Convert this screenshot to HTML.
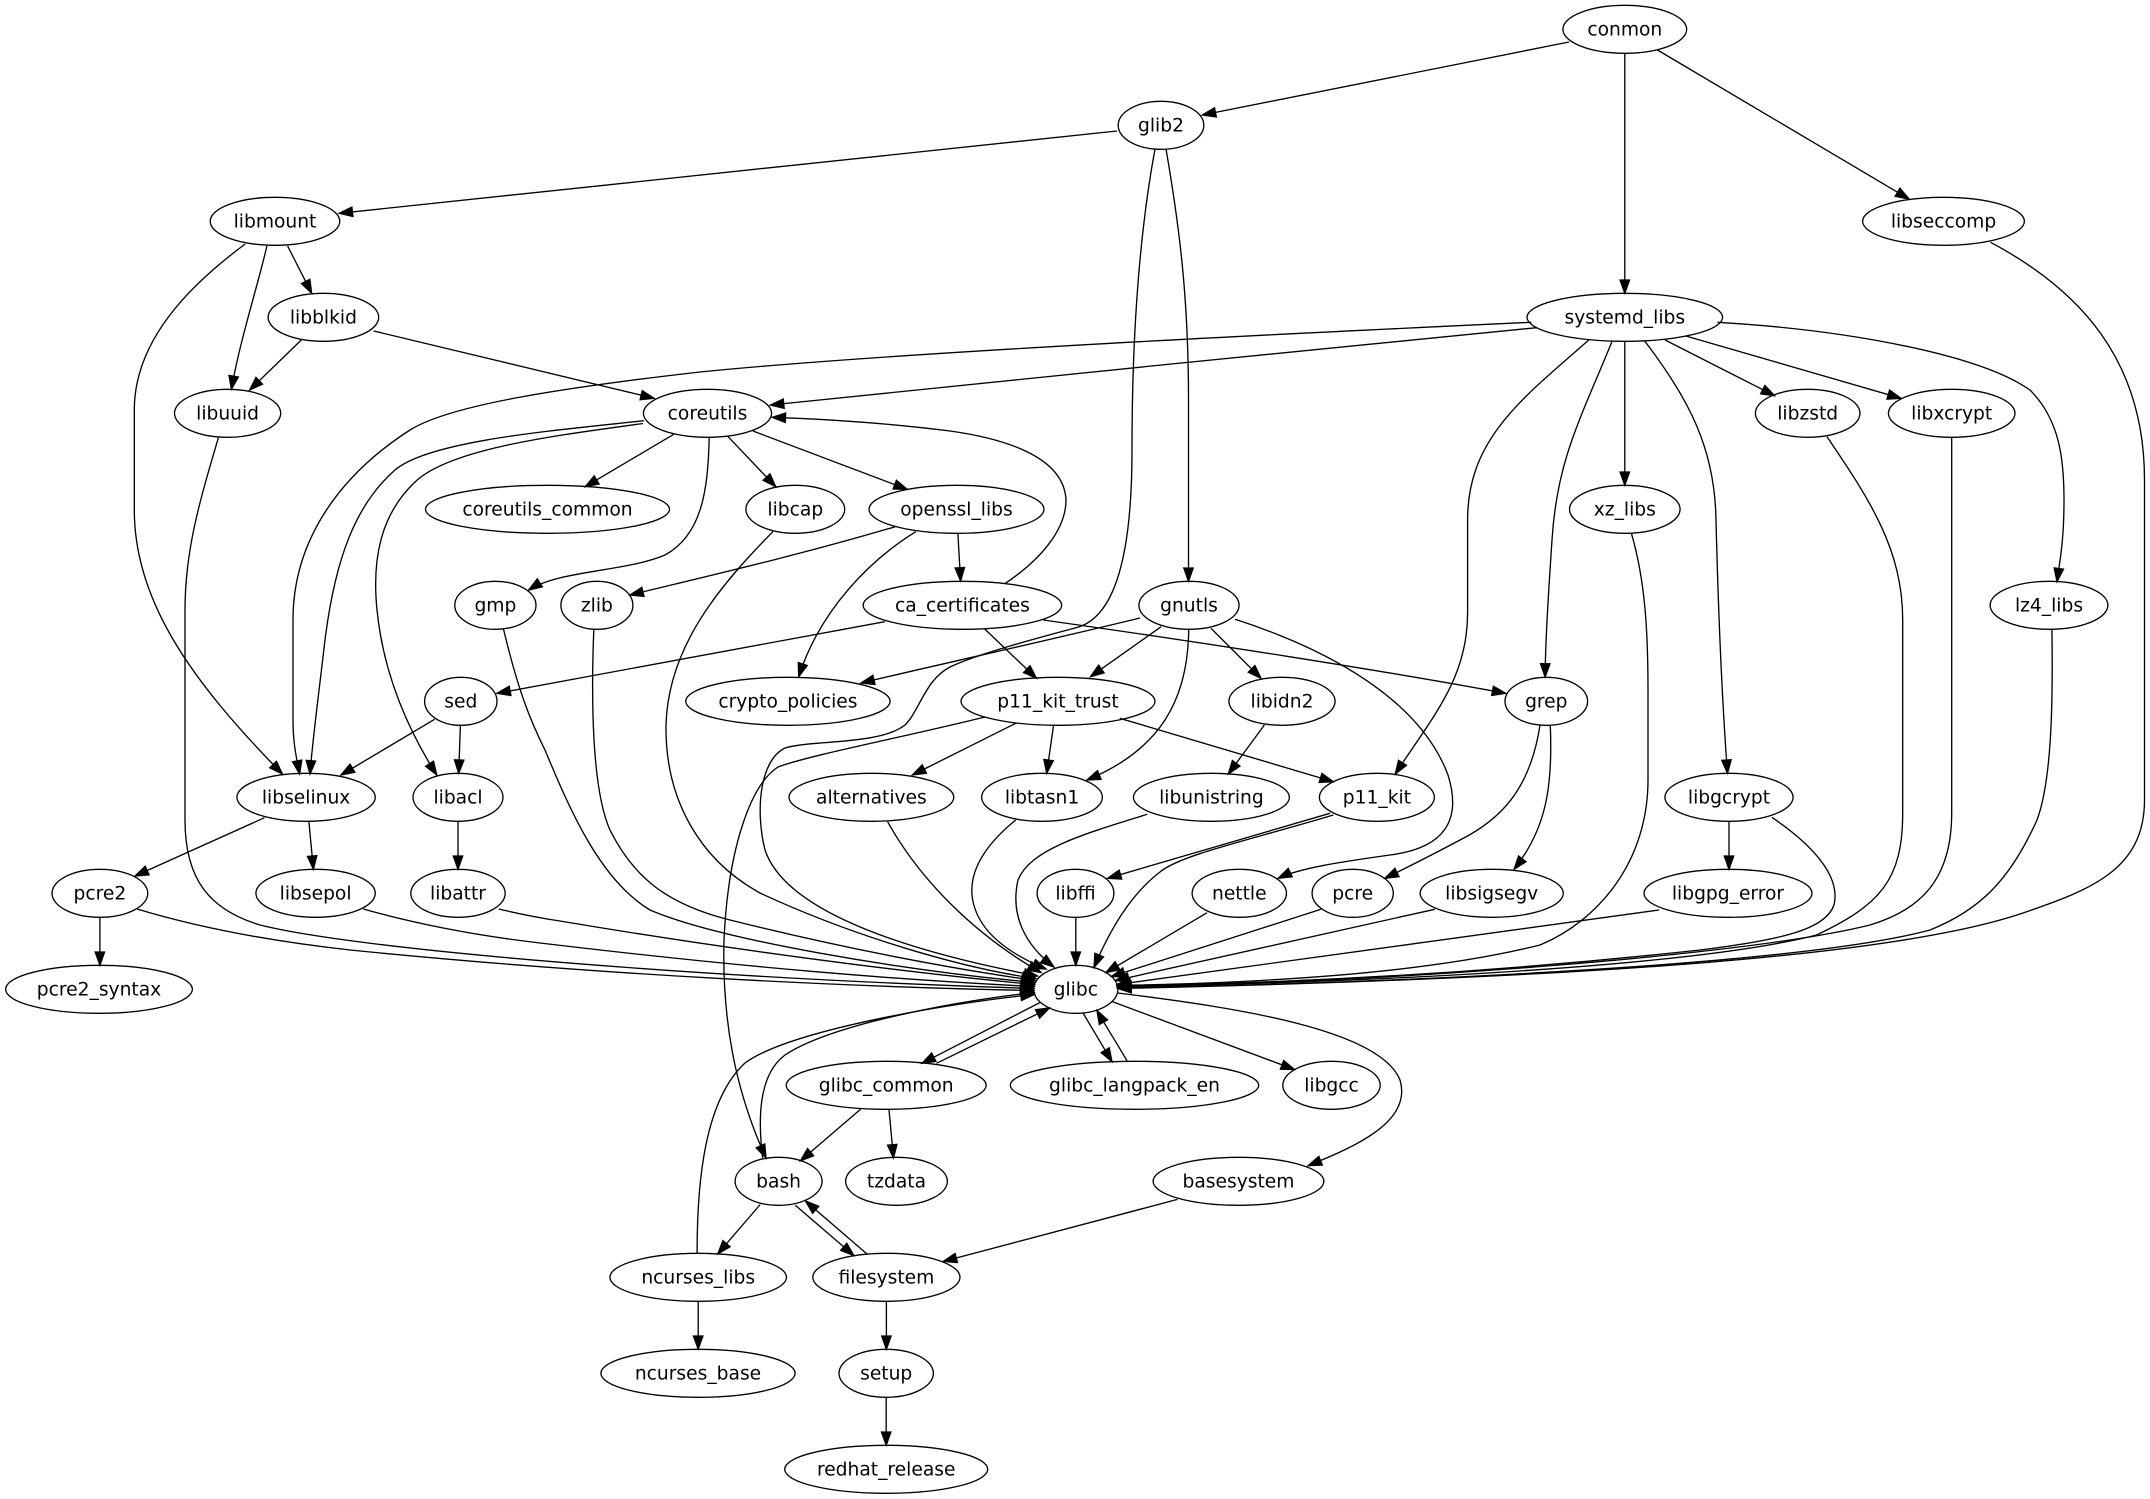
<!DOCTYPE html>
<html><head><meta charset="utf-8"><style>
html,body{margin:0;padding:0;background:#fff;}
svg{display:block;}
text{font-family:"DejaVu Sans","Liberation Sans",sans-serif;font-size:18.67px;fill:#000;text-anchor:middle;}
</style></head><body>
<svg width="2150" height="1499" viewBox="0 0 2150 1499" xmlns="http://www.w3.org/2000/svg">
<rect x="0" y="0" width="2150" height="1499" fill="#fff"/>
<defs>
<marker id="a" markerUnits="userSpaceOnUse" markerWidth="18" markerHeight="14" refX="14" refY="5" orient="auto" viewBox="-1 -1 18 14" overflow="visible">
<path d="M0.7,0.3 L14,5 L0.7,9.7 Z" fill="#000" stroke="#000" stroke-width="1.33"/>
</marker>
</defs>
<g fill="none" stroke="#000" stroke-width="1.33" marker-end="url(#a)">
<path d="M1569,42 L1202.4,115"/>
<path d="M1624.8,53.3 L1624.8,293.3"/>
<path d="M1657.5,50 L1909,199"/>
<path d="M1117,131 C800,163 540,190 339.2,213.3"/>
<path d="M1155,149 C1140,230 1132,330 1132,450 C1132,570 1110,620 1075,628 C1030,640 975,655 950,667 C925,680 920,710 905,725 C880,745 810,740 785,748 C760,760 755,810 765,850 C785,910 900,950 1037.5,976"/>
<path d="M1166,149 C1180,230 1188.5,300 1188.5,400 L1188.5,581.3"/>
<path d="M245.2,244 C190,285 134.3,340 134.3,410 L134.3,510 C134.3,600 190,680 282.4,774"/>
<path d="M266.9,246 C258,285 240,340 231.4,389.3"/>
<path d="M287.6,246 L311.7,293.3"/>
<path d="M1990.6,242.3 C2080,290 2144.5,360 2144.5,480 L2144.5,800 C2144.5,870 2090,890 2023,913 C1900,955 1600,978 1117.9,988.5"/>
<path d="M301.3,340 L249.7,390"/>
<path d="M373.7,331 L654.1,398.3"/>
<path d="M1531.3,322.3 C1300,333 900,352 700,372 C560,388 450,405 410,430 C340,475 293,540 293,620 L293,720 C293,745 297,760 299.6,774"/>
<path d="M1536.5,327.7 C1300,350 1000,382 770.5,405"/>
<path d="M1588.8,340 C1520,400 1467.6,440 1467.6,520 L1467.6,613 C1467.6,680 1430,720 1395.3,774"/>
<path d="M1612.3,340.7 C1580,420 1557,460 1552,540 C1548,600 1545.5,640 1545.1,677"/>
<path d="M1624.8,341.3 L1624.8,485.3"/>
<path d="M1644.4,340.7 C1690,400 1715,450 1716,520 C1718,600 1722,700 1727.5,773.3"/>
<path d="M1665.1,340 L1774.6,395.7"/>
<path d="M1685.8,336 L1901,398.3"/>
<path d="M1717.4,322.3 C1850,330 1980,355 2030,390 C2060,420 2064,460 2064,500 C2064,540 2060,560 2057,581.7"/>
<path d="M218.4,437.7 C200,500 185,550 185,610 L185,820 C185,880 210,910 260,925 C360,950 700,978 1033.7,988.5"/>
<path d="M643.8,420.7 C560,430 430,440 395,470 C355,505 335,560 325,640 C318,700 312,745 310,774"/>
<path d="M643,423.5 C560,435 450,448 415,482 C380,515 372,560 377,610 C383,670 405,725 436.7,775"/>
<path d="M673.7,434.3 L585.2,486.7"/>
<path d="M709.2,437.7 C708,490 702,535 665,555 C625,572 560,570 528.6,590"/>
<path d="M728.1,436.7 L775.7,486.7"/>
<path d="M753,431 L907.2,489.3"/>
<path d="M1827,436.7 C1870,500 1902.7,550 1902.7,620 L1902.7,813 C1902.7,880 1880,905 1816.6,935 C1700,965 1400,982 1117.8,986.5"/>
<path d="M1951.7,437.3 L1951.7,813 C1951.7,880 1920,910 1870,925 C1750,955 1400,982 1117.9,987"/>
<path d="M772.9,531.7 C715,590 668,650 666,725 C665,800 700,860 760,893 C850,935 960,968 1036,978.5"/>
<path d="M895.2,526.7 C800,555 700,578 630,595"/>
<path d="M957.9,534 L960.6,581"/>
<path d="M915.8,531.7 C870,560 820,610 798.7,676.7"/>
<path d="M1631.4,533.3 C1645,580 1648,630 1648,690 L1648,780 C1648,860 1600,920 1540,945 C1420,975 1250,983 1117.5,985.5"/>
<path d="M503.5,629 C518,690 530,720 545,750 C570,810 600,880 650,910 C720,940 900,970 1034.6,982.5"/>
<path d="M593.8,630 C591,700 592,790 610,830 C635,880 670,905 730,920 C850,950 960,970 1035.2,980.5"/>
<path d="M1005.4,583.3 C1040,560 1066,530 1066,500 C1064,455 1000,438 950,431 C880,422 820,419 772.2,417.3"/>
<path d="M884.8,621.7 L497,693.3"/>
<path d="M984.7,629 L1036.4,678.3"/>
<path d="M1043.3,620 C1200,642 1380,670 1505.6,693.3"/>
<path d="M1140,618 C1050,640 950,662 861,683"/>
<path d="M1161.1,626.7 L1090.5,676.7"/>
<path d="M1211,628.3 L1261,678.3"/>
<path d="M1188.7,630 C1188,700 1160,750 1087,780"/>
<path d="M1235.1,619.3 C1330,650 1420,700 1448,775 C1462,820 1445,848 1390,855 C1340,862 1300,868 1278.2,878.3"/>
<path d="M2051.9,629 C2053,700 2052,780 2037,820 C2010,880 1980,910 1930,930 C1800,965 1400,983 1117.9,987.8"/>
<path d="M434.6,719.3 L341,775"/>
<path d="M460.4,725 L458.7,773.3"/>
<path d="M985,717 C900,738 810,755 778,767 C750,785 728,850 724,940 C722,1020 735,1090 766,1158"/>
<path d="M1015.7,723.3 L912.4,775"/>
<path d="M1053.6,725 L1046.7,773.3"/>
<path d="M1119.8,718.3 L1333.3,781.7"/>
<path d="M1264.4,725 L1228.3,774"/>
<path d="M1539.9,725.7 C1530,790 1500,820 1460,840 C1430,856 1408,867 1385,878.3"/>
<path d="M1550.3,725.7 C1553,790 1545,830 1514.1,869.3"/>
<path d="M264.5,817.7 L135,876"/>
<path d="M308.9,821.7 L313.4,869.3"/>
<path d="M458,821.3 L458,869.3"/>
<path d="M887.6,821.7 C920,880 975,935 1041,972.5"/>
<path d="M1015.7,820 C985,845 970,870 972,895 C975,925 1000,950 1046,969"/>
<path d="M1147.3,814.3 C1080,835 1030,850 1018,880 C1010,915 1025,945 1054,967"/>
<path d="M1329.9,813.3 L1107.7,878.3"/>
<path d="M1333.3,815 C1250,840 1180,855 1160,872 C1130,895 1110,930 1094,967.3"/>
<path d="M1729,821.3 L1729,869.3"/>
<path d="M1771.9,817.3 C1820,850 1840,880 1834,905 C1825,930 1780,940 1700,950 C1500,972 1300,983 1117.7,986"/>
<path d="M99.9,917.3 L99.9,965.3"/>
<path d="M137,909 C190,925 260,940 350,950 C600,975 850,987 1033.8,990.5"/>
<path d="M363.3,909 C420,925 480,936 540,943 C750,968 900,980 1033.9,986.5"/>
<path d="M498.7,909 C520,914 540,918 560,921 C720,948 900,972 1034.2,984.5"/>
<path d="M1075.8,917.3 L1075.8,965.3"/>
<path d="M1207.1,912.7 L1106,972.5"/>
<path d="M1321,909.3 L1111.5,976.5"/>
<path d="M1434.8,909.3 L1115.5,980.5"/>
<path d="M1659,910 L1117.3,984.5"/>
<path d="M1040,1002.5 L922,1063.3"/>
<path d="M936.5,1063.3 L1049.5,1008"/>
<path d="M1083,1013 L1112,1061.6"/>
<path d="M1127.4,1061.6 C1115,1040 1105,1025 1097,1010.5"/>
<path d="M1112,1001.5 L1294.5,1069.5"/>
<path d="M1117.6,993 C1240,1008 1380,1030 1400,1080 C1412,1120 1360,1145 1308.2,1165.6"/>
<path d="M860.7,1109.1 L800.5,1160.8"/>
<path d="M889,1109.8 L893.5,1158"/>
<path d="M762.6,1158 C758,1120 758,1075 785,1055 C830,1025 950,1002 1034,992.5"/>
<path d="M760.2,1204.5 L717.8,1253.8"/>
<path d="M795.3,1205.2 L853.8,1255.5"/>
<path d="M867.6,1254.5 L805.6,1201.1"/>
<path d="M1177.4,1199.4 L943.4,1261.4"/>
<path d="M697.1,1253.3 C697,1180 705,1100 745,1063 C790,1030 950,1003 1034.3,994.5"/>
<path d="M698.2,1301.3 L698.2,1349.3"/>
<path d="M886.4,1301.3 L886.4,1349.3"/>
<path d="M886.2,1397.3 L886.2,1445.3"/>
</g>
<g fill="none" stroke="#000" stroke-width="1.33">
<ellipse cx="1624.8" cy="29.3" rx="61.9" ry="24"/>
<ellipse cx="1161" cy="125.3" rx="42.8" ry="24"/>
<ellipse cx="275" cy="221.3" rx="64.8" ry="24"/>
<ellipse cx="1943.5" cy="221.3" rx="80.9" ry="24"/>
<ellipse cx="323.4" cy="317.3" rx="55.3" ry="24"/>
<ellipse cx="1624.8" cy="317.3" rx="97.8" ry="24"/>
<ellipse cx="227.6" cy="413.3" rx="53.1" ry="24"/>
<ellipse cx="707.5" cy="413.3" rx="64.1" ry="24"/>
<ellipse cx="1807.7" cy="413.3" rx="52.3" ry="24"/>
<ellipse cx="1951.7" cy="413.3" rx="63.3" ry="24"/>
<ellipse cx="547.5" cy="509.3" rx="122" ry="24"/>
<ellipse cx="795.3" cy="509.3" rx="49.4" ry="24"/>
<ellipse cx="956.5" cy="509.3" rx="87.5" ry="24"/>
<ellipse cx="1624.8" cy="509.3" rx="55.3" ry="24"/>
<ellipse cx="495.4" cy="605.3" rx="40.6" ry="24"/>
<ellipse cx="596.9" cy="605.3" rx="36" ry="24"/>
<ellipse cx="962.4" cy="605.3" rx="99.3" ry="24"/>
<ellipse cx="1189" cy="605.3" rx="50.1" ry="24"/>
<ellipse cx="2049" cy="605.3" rx="58.9" ry="24"/>
<ellipse cx="460.8" cy="701.3" rx="36.2" ry="24"/>
<ellipse cx="787.9" cy="701.3" rx="102.2" ry="24"/>
<ellipse cx="1058" cy="701.3" rx="97" ry="24"/>
<ellipse cx="1282" cy="701.3" rx="53.1" ry="24"/>
<ellipse cx="1546.3" cy="701.3" rx="41.3" ry="24"/>
<ellipse cx="306.1" cy="797.3" rx="69.2" ry="24"/>
<ellipse cx="458" cy="797.3" rx="45" ry="24"/>
<ellipse cx="871.4" cy="797.3" rx="82.4" ry="24"/>
<ellipse cx="1042" cy="797.3" rx="60.4" ry="24"/>
<ellipse cx="1211.4" cy="797.3" rx="78" ry="24"/>
<ellipse cx="1376.9" cy="797.3" rx="57.5" ry="24"/>
<ellipse cx="1729" cy="797.3" rx="64.1" ry="24"/>
<ellipse cx="99.9" cy="893.3" rx="47.9" ry="24"/>
<ellipse cx="315.6" cy="893.3" rx="59.7" ry="24"/>
<ellipse cx="458" cy="893.3" rx="47.2" ry="24"/>
<ellipse cx="1075.5" cy="893.3" rx="38.4" ry="24"/>
<ellipse cx="1239.3" cy="893.3" rx="47.2" ry="24"/>
<ellipse cx="1352.7" cy="893.3" rx="40.6" ry="24"/>
<ellipse cx="1491.7" cy="893.3" rx="71.6" ry="24"/>
<ellipse cx="1728" cy="893.3" rx="84" ry="24"/>
<ellipse cx="99" cy="989.3" rx="93.4" ry="24"/>
<ellipse cx="1075.8" cy="989.3" rx="42.1" ry="24"/>
<ellipse cx="886.2" cy="1085.3" rx="100" ry="24"/>
<ellipse cx="1134.5" cy="1085.3" rx="124.2" ry="24"/>
<ellipse cx="1331.5" cy="1085.3" rx="48.7" ry="24"/>
<ellipse cx="778.6" cy="1181.3" rx="43.5" ry="24"/>
<ellipse cx="896.5" cy="1181.3" rx="50.9" ry="24"/>
<ellipse cx="1238.5" cy="1181.3" rx="85.4" ry="24"/>
<ellipse cx="698.2" cy="1277.3" rx="88.3" ry="24"/>
<ellipse cx="886.4" cy="1277.3" rx="73.6" ry="24"/>
<ellipse cx="698" cy="1373.3" rx="97.1" ry="24"/>
<ellipse cx="886.2" cy="1373.3" rx="47.2" ry="24"/>
<ellipse cx="886.2" cy="1469.3" rx="101.5" ry="24"/>
</g>
<g>
<text x="1624.8" y="35.6">conmon</text>
<text x="1161" y="131.6">glib2</text>
<text x="275" y="227.6">libmount</text>
<text x="1943.5" y="227.6">libseccomp</text>
<text x="323.4" y="323.6">libblkid</text>
<text x="1624.8" y="323.6">systemd_libs</text>
<text x="227.6" y="419.6">libuuid</text>
<text x="707.5" y="419.6">coreutils</text>
<text x="1807.7" y="419.6">libzstd</text>
<text x="1951.7" y="419.6">libxcrypt</text>
<text x="547.5" y="515.6">coreutils_common</text>
<text x="795.3" y="515.6">libcap</text>
<text x="956.5" y="515.6">openssl_libs</text>
<text x="1624.8" y="515.6">xz_libs</text>
<text x="495.4" y="611.6">gmp</text>
<text x="596.9" y="611.6">zlib</text>
<text x="962.4" y="611.6">ca_certificates</text>
<text x="1189" y="611.6">gnutls</text>
<text x="2049" y="611.6">lz4_libs</text>
<text x="460.8" y="707.6">sed</text>
<text x="787.9" y="707.6">crypto_policies</text>
<text x="1058" y="707.6">p11_kit_trust</text>
<text x="1282" y="707.6">libidn2</text>
<text x="1546.3" y="707.6">grep</text>
<text x="306.1" y="803.6">libselinux</text>
<text x="458" y="803.6">libacl</text>
<text x="871.4" y="803.6">alternatives</text>
<text x="1042" y="803.6">libtasn1</text>
<text x="1211.4" y="803.6">libunistring</text>
<text x="1376.9" y="803.6">p11_kit</text>
<text x="1729" y="803.6">libgcrypt</text>
<text x="99.9" y="899.6">pcre2</text>
<text x="315.6" y="899.6">libsepol</text>
<text x="458" y="899.6">libattr</text>
<text x="1075.5" y="899.6">libffi</text>
<text x="1239.3" y="899.6">nettle</text>
<text x="1352.7" y="899.6">pcre</text>
<text x="1491.7" y="899.6">libsigsegv</text>
<text x="1728" y="899.6">libgpg_error</text>
<text x="99" y="995.6">pcre2_syntax</text>
<text x="1075.8" y="995.6">glibc</text>
<text x="886.2" y="1091.6">glibc_common</text>
<text x="1134.5" y="1091.6">glibc_langpack_en</text>
<text x="1331.5" y="1091.6">libgcc</text>
<text x="778.6" y="1187.6">bash</text>
<text x="896.5" y="1187.6">tzdata</text>
<text x="1238.5" y="1187.6">basesystem</text>
<text x="698.2" y="1283.6">ncurses_libs</text>
<text x="886.4" y="1283.6">filesystem</text>
<text x="698" y="1379.6">ncurses_base</text>
<text x="886.2" y="1379.6">setup</text>
<text x="886.2" y="1475.6">redhat_release</text>
</g>
</svg>
</body></html>
